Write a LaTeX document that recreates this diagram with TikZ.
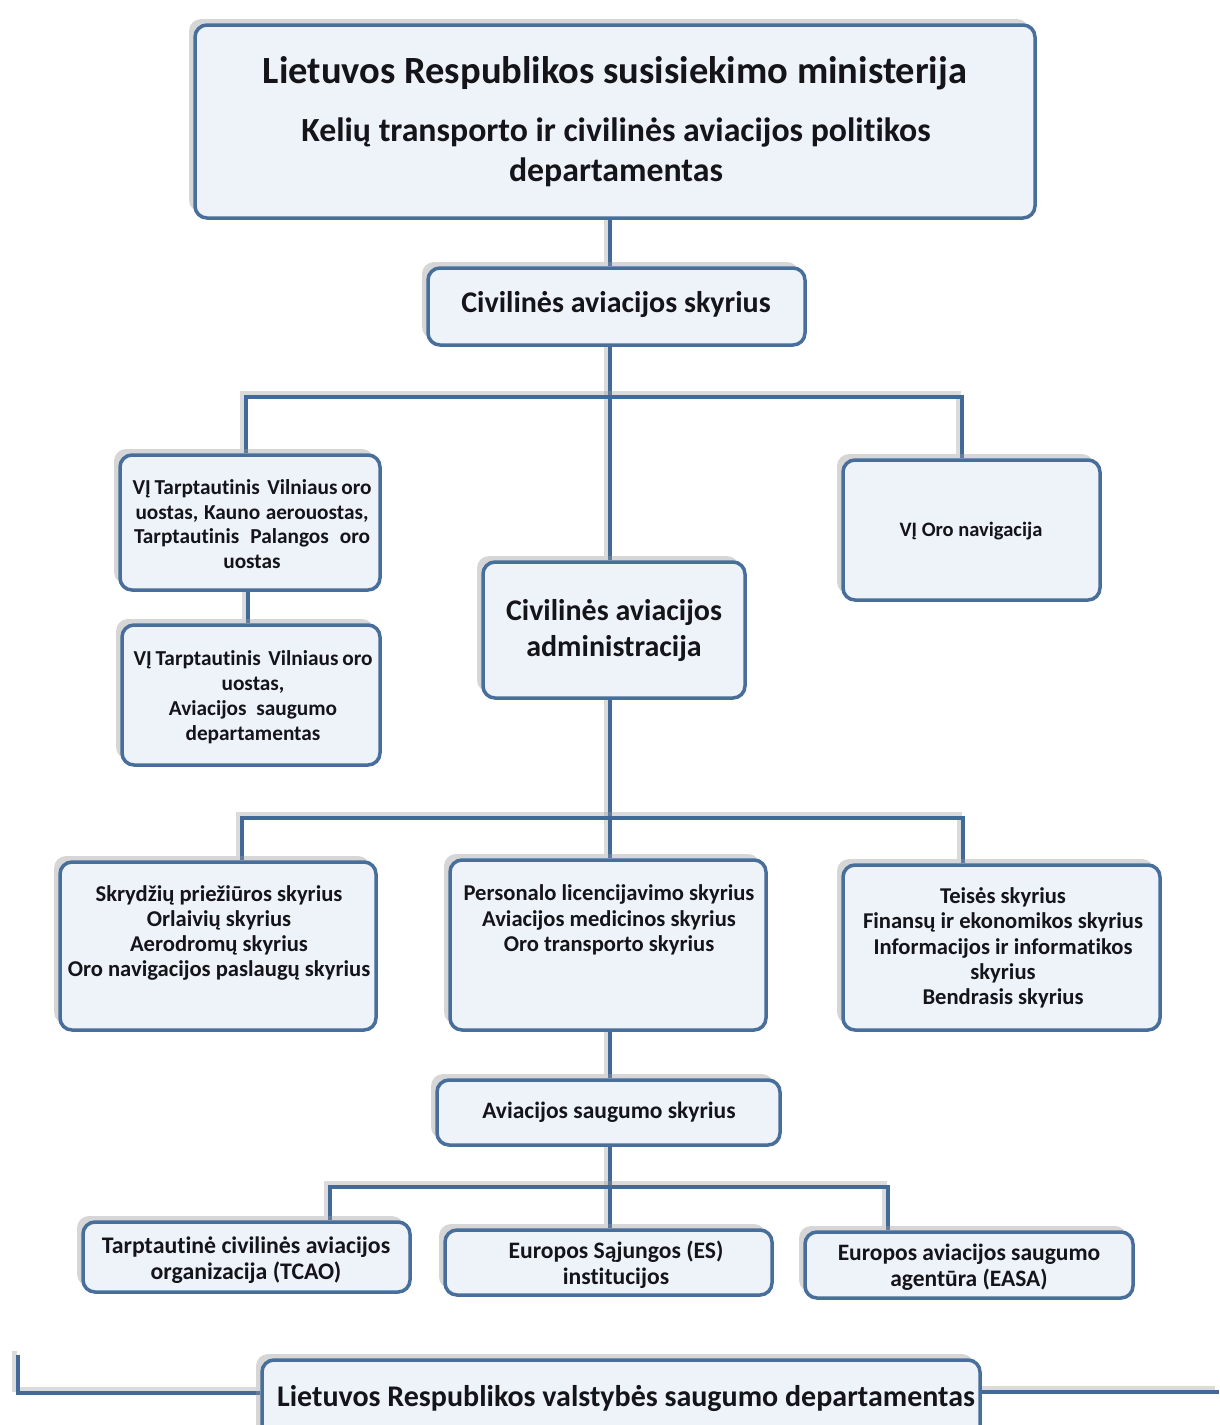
\documentclass[tikz,border=0pt]{standalone}
\usepackage{fontspec}
\setmainfont{Carlito}[Ligatures={NoCommon}]
\definecolor{boxblue}{RGB}{72,110,155}
\definecolor{boxfill}{RGB}{238,242,249}
\definecolor{linkblue}{RGB}{66,106,152}
\definecolor{txt}{RGB}{20,20,25}
\pgfdeclarelayer{bg}
\pgfsetlayers{bg,main}
\tikzset{
  box/.style={draw=boxblue, line width=3.5pt, fill=boxfill, rounded corners=12pt, inner sep=0pt,
    preaction={fill=black!40, opacity=0.4, transform canvas={shift={(-6pt,6pt)}}}},
  lbl/.style={align=center, text=txt, inner sep=0pt, font=\bfseries},
  link/.style={draw=linkblue, line width=4.5pt,
    preaction={draw=black!40, opacity=0.35, line width=5pt, transform canvas={shift={(-4pt,4pt)}}}},
}
\newcommand{\fs}[2]{\fontsize{#1}{#2}\selectfont}
\begin{document}
\begin{tikzpicture}[x=1pt,y=-1pt]
\useasboundingbox (0,0) rectangle (1219,1425);
\clip (0,0) rectangle (1219,1425);

% boxes
\node[box, minimum width=840pt, minimum height=193pt] (top) at (615,121.5) {};
\node[box, minimum width=377pt, minimum height=77pt] (civ) at (616.5,306.5) {};
\node[box, minimum width=260pt, minimum height=135pt] (l1) at (250,522.5) {};
\node[box, minimum width=258pt, minimum height=140pt] (l2) at (251,695) {};
\node[box, minimum width=262pt, minimum height=136pt] (caa) at (614,630) {};
\node[box, minimum width=257pt, minimum height=140pt] (r) at (971.5,530) {};
\node[box, minimum width=316pt, minimum height=168pt] (rowl) at (218,946) {};
\node[box, minimum width=316pt, minimum height=170pt] (rowm) at (608,945) {};
\node[box, minimum width=317pt, minimum height=165pt] (rowr) at (1001.5,947.5) {};
\node[box, minimum width=343pt, minimum height=65pt] (as) at (608.5,1112.5) {};
\node[box, minimum width=327pt, minimum height=70pt] (b1) at (246.5,1257) {};
\node[box, minimum width=327pt, minimum height=65pt] (b2) at (608.5,1262.5) {};
\node[box, minimum width=328pt, minimum height=66pt] (b3) at (969,1265) {};
\node[box, minimum width=718pt, minimum height=84pt] (big) at (621,1402) {};

% texts
\node[lbl, font=\bfseries\fs{38.5}{44}] (t-top1) at (615,73) {Lietuvos Respublikos susisiekimo ministerija};
\node[lbl, font=\bfseries\fs{33.8}{40}] (t-top2) at (616,152) {Kelių transporto ir civilinės aviacijos politikos\\departamentas};
\node[lbl, font=\bfseries\fs{30}{34}] (t-civ) at (616,304) {Civilinės aviacijos skyrius};
\node[lbl, font=\bfseries\fs{21.3}{24.5}] (t-l1) at (252,524) {\makebox[239pt][s]{VĮ Tarptautinis \ Vilniaus oro}\\\makebox[233pt][s]{uostas, Kauno aerouostas,}\\\makebox[236pt][s]{Tarptautinis \ Palangos \ oro}\\uostas};
\node[lbl, font=\bfseries\fs{21.3}{25}] (t-l2) at (253,697) {\makebox[239pt][s]{VĮ Tarptautinis \ Vilniaus oro}\\uostas,\\Aviacijos \ saugumo\\departamentas};
\node[lbl, font=\bfseries\fs{30}{36}] (t-caa) at (614,630) {Civilinės aviacijos\\administracija};
\node[lbl, font=\bfseries\fs{20.5}{24}] (t-r) at (971,531) {VĮ Oro navigacija};
\node[lbl, font=\bfseries\fs{22.6}{25.3}] (t-rowl) at (219,933) {Skrydžių priežiūros skyrius\\Orlaivių skyrius\\Aerodromų skyrius\\Oro navigacijos paslaugų skyrius};
\node[lbl, font=\bfseries\fs{22.6}{25.3}] (t-rowm) at (609,920) {Personalo licencijavimo skyrius\\Aviacijos medicinos skyrius\\Oro transporto skyrius};
\node[lbl, font=\bfseries\fs{22.6}{25.3}] (t-rowr) at (1003,948) {Teisės skyrius\\Finansų ir ekonomikos skyrius\\Informacijos ir informatikos\\skyrius\\Bendrasis skyrius};
\node[lbl, font=\bfseries\fs{23.5}{26}] (t-as) at (609,1112) {Aviacijos saugumo skyrius};
\node[lbl, font=\bfseries\fs{23.8}{26}] (t-b1) at (246,1260) {Tarptautinė civilinės aviacijos\\organizacija (TCAO)};
\node[lbl, font=\bfseries\fs{23.6}{26}] (t-b2) at (616,1265) {Europos Sąjungos (ES)\\institucijos};
\node[lbl, font=\bfseries\fs{23.5}{26}] (t-b3) at (969,1267) {Europos aviacijos saugumo\\agentūra (EASA)};
\node[lbl, font=\bfseries\fs{30}{34}] (t-big) at (626,1398) {Lietuvos Respublikos valstybės saugumo departamentas};

% connector coordinates
\coordinate (spine) at (610,0);
\coordinate (v1l) at (246,397);
\coordinate (v1r) at (962,397);
\coordinate (vl) at (248,0);
\coordinate (v2l) at (242,818);
\coordinate (v2r) at (963,818);
\coordinate (v3l) at (330,1187);
\coordinate (v3r) at (888,1187);
\coordinate (lb) at (18,1393);
\coordinate (lt) at (18,1355);
\coordinate (rb) at (1219,1392);

\begin{pgfonlayer}{bg}
\draw[link] (top.south -| spine) -- (civ.north -| spine);
\draw[link] (civ.south -| spine) -- (caa.north -| spine);
\draw[link] (l1.north -| v1l) -- (v1l) -- (v1r) -- (r.north -| v1r);
\draw[link] (l1.south -| vl) -- (l2.north -| vl);
\draw[link] (caa.south -| spine) -- (rowm.north -| spine);
\draw[link] (rowl.north -| v2l) -- (v2l) -- (v2r) -- (rowr.north -| v2r);
\draw[link] (rowm.south -| spine) -- (as.north -| spine);
\draw[link] (as.south -| spine) -- (b2.north -| spine);
\draw[link] (b1.north -| v3l) -- (v3l) -- (v3r) -- (b3.north -| v3r);
\draw[link] (big.west |- lb) -- (lb) -- (lt);
\draw[link] (big.east |- rb) -- (rb);
\end{pgfonlayer}
\end{tikzpicture}
\end{document}
